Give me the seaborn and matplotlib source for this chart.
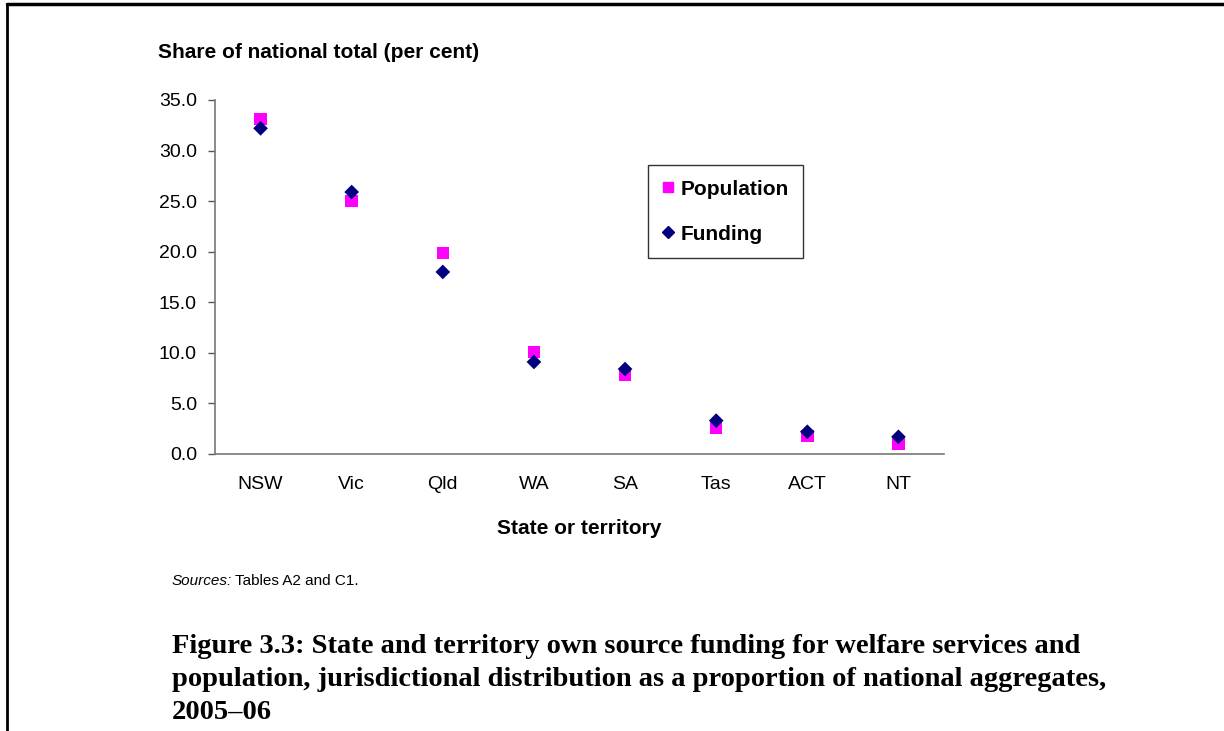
import pandas as pd
import seaborn as sns
import matplotlib.pyplot as plt
from matplotlib.lines import Line2D

# Values (share of national total, per cent)
states = ['NSW', 'Vic', 'Qld', 'WA', 'SA', 'Tas', 'ACT', 'NT']
population = [33.1, 25.0, 19.9, 10.1, 7.8, 2.6, 1.8, 1.0]
funding = [32.2, 25.9, 18.0, 9.1, 8.4, 3.3, 2.2, 1.7]
y_ticks = [0, 5, 10, 15, 20, 25, 30, 35]

df = pd.concat([
    pd.DataFrame({'state': states, 'share': population, 'series': 'Population'}),
    pd.DataFrame({'state': states, 'share': funding, 'series': 'Funding'}),
], ignore_index=True)

sns.set_style('white')
plt.rcParams['font.family'] = ['Liberation Sans', 'DejaVu Sans']
plt.rcParams['text.color'] = 'black'
plt.rcParams['xtick.color'] = 'black'
plt.rcParams['ytick.color'] = 'black'

fig = plt.figure(figsize=(12.24, 7.31), dpi=100)
ax = fig.add_axes([215 / 1224, 1 - 454 / 731, 729 / 1224, 354 / 731])

sns.scatterplot(data=df, x='state', y='share', hue='series', style='series',
                palette={'Population': '#FF00FF', 'Funding': '#000080'},
                markers={'Population': 's', 'Funding': 'D'},
                size='series', sizes={'Population': 80, 'Funding': 56},
                linewidth=0, ax=ax, legend=False)

ax.set_xlim(-0.5, len(states) - 0.5)
ax.set_ylim(0, 35)
ax.set_yticks(y_ticks)
ax.set_yticklabels([f'{v:.1f}' for v in y_ticks], fontsize=14)
ax.set_xticks(range(len(states)))
ax.set_xticklabels(states, fontsize=14)
ax.set_xticks([i - 0.5 for i in range(len(states) + 1)], minor=True)
ax.tick_params(axis='x', which='major', length=0, pad=16)
ax.tick_params(axis='x', which='minor', length=5, width=1, color='#555555', direction='out')
ax.tick_params(axis='y', length=5, width=1, color='#555555', direction='out', pad=8, left=True)
ax.set_xlabel('')
ax.set_ylabel('')
for side in ['top', 'right']:
    ax.spines[side].set_visible(False)
for side in ['left', 'bottom']:
    ax.spines[side].set_color('#777777')
    ax.spines[side].set_linewidth(1.2)

# Legend
handles = [
    Line2D([], [], marker='s', linestyle='', color='#FF00FF', markersize=7),
    Line2D([], [], marker='D', linestyle='', color='#000080', markersize=6),
]
leg = ax.legend(handles, ['Population', 'Funding'], loc='upper left',
                bbox_to_anchor=(648 / 1224, 1 - 165 / 731), bbox_transform=fig.transFigure,
                borderaxespad=0, frameon=True, fancybox=False, handlelength=0.5,
                handletextpad=0.35, labelspacing=1.25, borderpad=0.7,
                prop={'weight': 'bold', 'size': 15})
leg.get_frame().set_edgecolor('black')
leg.get_frame().set_linewidth(1)

# Axis titles
fig.text(158 / 1224, 1 - 53 / 731, 'Share of national total (per cent)',
         fontsize=15, fontweight='bold', va='center', ha='left')
fig.text(579 / 1224, 1 - 528 / 731, 'State or territory',
         fontsize=15, fontweight='bold', va='center', ha='center')

# Source note
fig.text(172 / 1224, 1 - 581 / 731, 'Sources:', fontsize=11, style='italic',
         va='center', ha='left')
fig.text(235 / 1224, 1 - 581 / 731, 'Tables A2 and C1.', fontsize=11,
         va='center', ha='left')

# Caption
caption = ('Figure 3.3: State and territory own source funding for welfare services and\n'
           'population, jurisdictional distribution as a proportion of national aggregates,\n'
           '2005\u201306')
fig.text(172 / 1224, 1 - 634 / 731, caption, fontsize=20.5, fontweight='bold',
         family=['Liberation Serif', 'DejaVu Serif'], va='top', ha='left',
         linespacing=1.42)

# Page border
fig.add_artist(Line2D([7 / 1224, 7 / 1224], [0, 1 - 4 / 731], color='black', linewidth=2,
                      transform=fig.transFigure))
fig.add_artist(Line2D([7 / 1224, 1], [1 - 4 / 731, 1 - 4 / 731], color='black', linewidth=2.5,
                      transform=fig.transFigure))

fig.savefig('out.png', dpi=100)
